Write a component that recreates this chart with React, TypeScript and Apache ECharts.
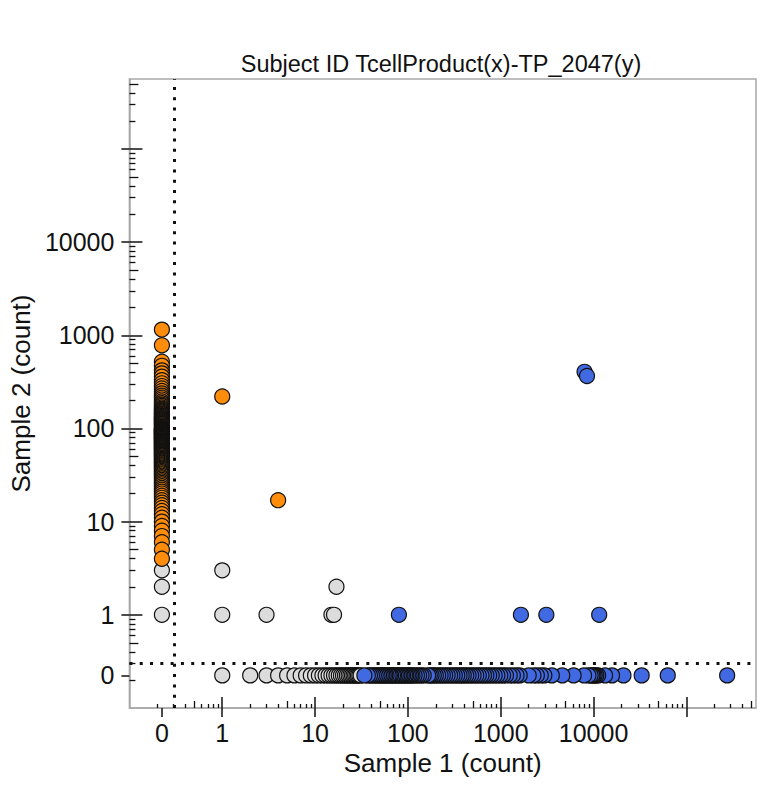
import React, { useEffect, useRef } from "react";
import * as echarts from "echarts";

// ---- data (raw counts; 0 is drawn at its own position left/below 1) ----
const xTickValues = [0, 1, 10, 100, 1000, 10000];
const yTickValues = [0, 1, 10, 100, 1000, 10000];

// Sample 1 = 0 column, orange (Sample 2 counts)
const orangeZeroColumnY = [
  4, 5, 6, 7, 8, 9, 10, 11, 12, 13, 14, 15, 16, 17, 18, 19, 20, 21, 22, 23, 24, 25,
  26, 27, 28, 29, 30, 31, 32, 33, 34, 35, 36, 37, 38, 39, 40, 41, 42, 43, 44, 45, 46,
  47, 48, 49, 50, 51, 52, 53, 54, 55, 56, 57, 58, 59, 60, 61, 62, 63, 64, 65, 66, 67,
  68, 69, 70, 71, 72, 73, 74, 75, 76, 77, 78, 79, 80, 81, 82, 83, 84, 85, 86, 87, 88,
  89, 90, 91, 92, 93, 94, 95, 96, 97, 98, 99, 100, 102, 104, 106, 108, 110, 112, 114,
  116, 118, 120, 122, 124, 126, 128, 130, 133, 136, 139, 142, 145, 148, 151, 155, 159,
  163, 168, 174, 180, 187, 195, 204, 214, 225, 238, 252, 268, 285, 305, 330, 360, 390,
  420, 470, 520, 780, 1150,
];
const orangeOtherPts: [number, number][] = [
  [1, 220],
  [4, 17],
];
const grayZeroColumnY = [1, 2, 3];
const grayOtherPts: [number, number][] = [
  [1, 1],
  [1, 3],
  [3, 1],
  [15, 1],
  [16, 1],
  [17, 2],
];
// Sample 2 = 0 row
const grayZeroRowX = [
  1, 2, 3, 4, 5, 6, 7, 8, 9, 10, 11, 12, 13, 14, 15, 16, 17, 18, 19, 20, 21, 22, 23,
  24, 25, 26, 27, 28, 29, 30, 31,
];
const blueZeroRowX = [
  34, 37, 39, 41, 43, 45, 47, 49, 51, 53, 55, 57, 59, 62, 64, 66, 69, 71, 74, 77, 80,
  83, 86, 89, 93, 96, 100, 104, 108, 112, 118, 125, 132, 140, 148, 165, 172, 180, 190,
  200, 212, 225, 238, 252, 268, 285, 302, 320, 340, 360, 380, 400, 425, 450, 480, 510,
  545, 580, 620, 660, 700, 750, 800, 860, 920, 990, 1060, 1140, 1250, 1350, 1480, 1600,
  2000, 2250, 2450, 2700, 2950, 3550, 4600, 6100, 7900, 8800, 9300, 9700, 10000, 10300,
  10700, 11200, 13300, 15800, 21000, 33000, 63000, 275000,
];
const blueOtherPts: [number, number][] = [
  [80, 1],
  [1650, 1],
  [3100, 1],
  [11500, 1],
  [8000, 405],
  [8500, 365],
];
const thresholdX = 0.3;
const thresholdY = 0.3;

// ---- scale helpers ----
const ZERO_POS = -0.65;
const AX_MIN = -1;
const AX_MAX = 5.75;
const T = (v: number) => (v > 0 ? Math.log10(v) : ZERO_POS);

const majorPos = [0, 1, 2, 3, 4, 5];
const minorPos: number[] = [];
const fivePos: number[] = [];
for (let d = -1; d <= 5; d++) {
  for (let m = 2; m <= 9; m++) {
    const t = d + Math.log10(m);
    if (t > AX_MIN && t < AX_MAX) {
      if (m === 5) fivePos.push(t);
      else minorPos.push(t);
    }
  }
}

const FONT = "'Liberation Sans', Arial, Helvetica, sans-serif";
const AXIS_GRAY = "#a8a8a8";
const TICK = "#111";

function labelFor(ticks: number[]) {
  const map = new Map<string, string>();
  ticks.forEach((v) => map.set(T(v).toFixed(4), String(v)));
  return (val: number) => map.get(Number(val).toFixed(4)) ?? "";
}

function makeAxes(dir: "x" | "y", ticks: number[]) {
  const isX = dir === "x";
  const base = {
    type: "value",
    min: AX_MIN,
    max: AX_MAX,
    position: isX ? "bottom" : "left",
    splitLine: { show: false },
    axisLine: { show: false, onZero: false },
    axisLabel: { show: false },
    axisTick: { show: false },
  };
  const majIn = isX ? 11 : 13;
  const majOut = isX ? 9 : 8;
  const minLen = isX ? 4 : 6;
  const fiveLen = isX ? 7 : 9;
  return [
    {
      ...base,
      axisLine: { show: true, onZero: false, lineStyle: { color: AXIS_GRAY, width: 1.5 } },
      axisTick: {
        show: true,
        inside: false,
        length: majOut,
        customValues: [ZERO_POS, ...majorPos],
        lineStyle: { color: TICK, width: 1.5 },
      },
      axisLabel: {
        show: true,
        customValues: ticks.map(T),
        formatter: labelFor(ticks),
        fontSize: 25,
        color: "#111",
        fontFamily: FONT,
        margin: isX ? 12 : 15,
      },
      name: isX ? "Sample 1 (count)" : "Sample 2 (count)",
      nameLocation: "middle",
      nameGap: isX ? 36 : 91,
      nameTextStyle: { fontSize: 26, color: "#111", fontFamily: FONT },
    },
    {
      ...base,
      axisTick: {
        show: true,
        inside: true,
        length: majIn,
        customValues: majorPos,
        lineStyle: { color: TICK, width: 1.5 },
      },
    },
    {
      ...base,
      axisTick: {
        show: true,
        inside: true,
        length: minLen,
        customValues: minorPos,
        lineStyle: { color: TICK, width: 1.3 },
      },
    },
    {
      ...base,
      axisTick: {
        show: true,
        inside: true,
        length: fiveLen,
        customValues: fivePos,
        lineStyle: { color: TICK, width: 1.3 },
      },
    },
  ];
}

const toPts = (pts: [number, number][]) => pts.map(([x, y]) => [T(x), T(y)]);

export default function App() {
  const ref = useRef<HTMLDivElement>(null);
  useEffect(() => {
    if (!ref.current) return;
    const chart = echarts.init(ref.current, null, { renderer: "svg" });

    // draw order: column from top to bottom, gray row left→right, blue row right→left
    const orange = [
      ...toPts(orangeOtherPts),
      ...[...orangeZeroColumnY].sort((a, b) => b - a).map((y) => [T(0), T(y)]),
    ];
    const gray = [
      ...grayZeroColumnY.map((y) => [T(0), T(y)]),
      ...toPts(grayOtherPts),
      ...[...grayZeroRowX].sort((a, b) => a - b).map((x) => [T(x), T(0)]),
    ];
    const blue = [
      ...[...blueZeroRowX].sort((a, b) => b - a).map((x) => [T(x), T(0)]),
      ...toPts(blueOtherPts),
    ];

    const pointStyle = (color: string) => ({
      type: "scatter",
      symbol: "circle",
      symbolSize: 15,
      itemStyle: { color, borderColor: "#111", borderWidth: 1.2, opacity: 1 },
      emphasis: { disabled: true },
      z: 3,
    });

    chart.setOption({
      animation: false,
      textStyle: { fontFamily: FONT },
      grid: {
        left: 126,
        top: 79,
        width: 630,
        height: 629,
        show: true,
        borderColor: AXIS_GRAY,
        borderWidth: 1.5,
        backgroundColor: "transparent",
      },
      graphic: [
        {
          type: "text",
          x: 441,
          y: 64,
          style: {
            text: "Subject ID TcellProduct(x)-TP_2047(y)",
            fontSize: 23.5,
            fontFamily: FONT,
            fill: "#111",
            align: "center",
            verticalAlign: "middle",
          },
        },
      ],
      xAxis: makeAxes("x", xTickValues),
      yAxis: makeAxes("y", yTickValues),
      series: [
        {
          type: "scatter",
          data: [],
          z: 1,
          silent: true,
          markLine: {
            silent: true,
            symbol: ["none", "none"],
            label: { show: false },
            emphasis: { disabled: true },
            lineStyle: { color: "#111", type: [3, 7.3], width: 3 },
            data: [{ xAxis: T(thresholdX) }, { yAxis: T(thresholdY) }],
          },
        },
        { ...pointStyle("#dcdcdc"), data: gray },
        { ...pointStyle("#4169e1"), data: blue },
        { ...pointStyle("#ff8c0a"), data: orange },
      ],
    });
    return () => chart.dispose();
  }, []);
  return (
    <div
      ref={ref}
      style={{ position: "absolute", left: 0, top: 0, width: 776, height: 794 }}
    />
  );
}
